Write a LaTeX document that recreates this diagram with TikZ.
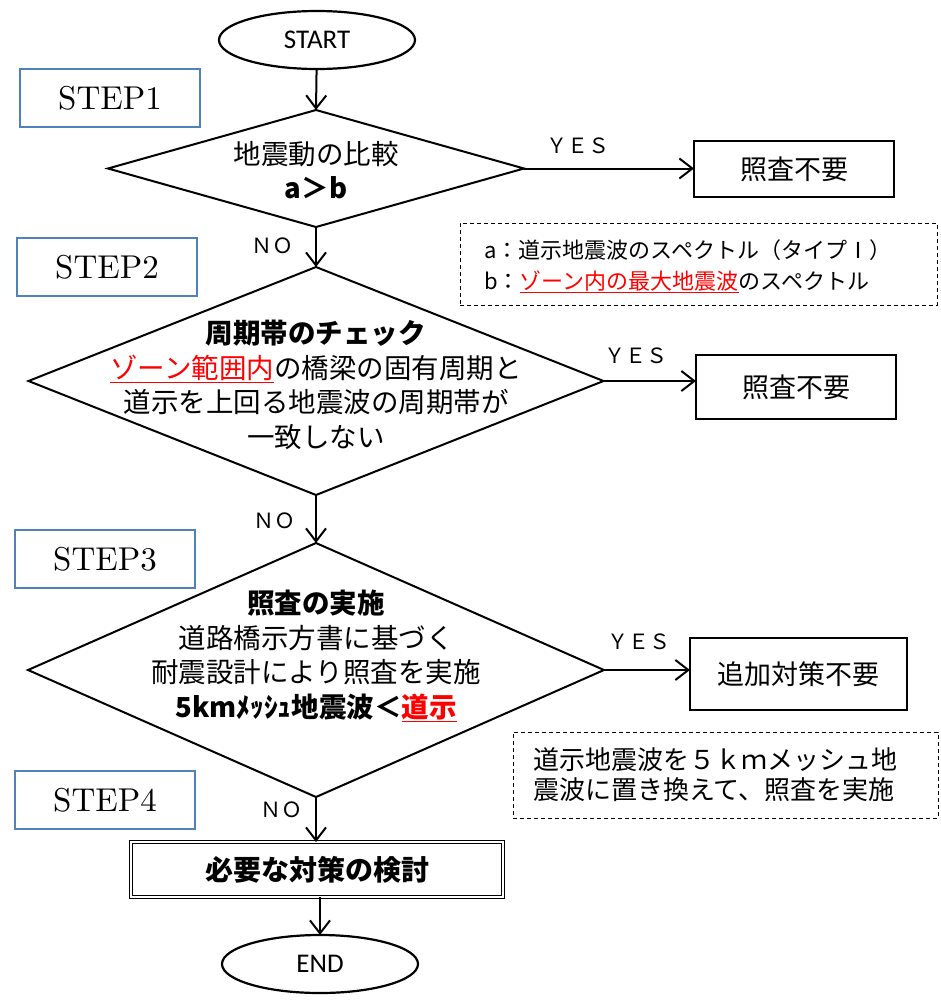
\documentclass[tikz,border=0pt]{standalone}
\usepackage{fontspec}
\usetikzlibrary{shapes.geometric,arrows.meta}
\newfontfamily\jp{Noto Sans CJK JP}
\newfontfamily\calib{Carlito}
\newfontfamily\stepfont{lmroman10-regular.otf}
\definecolor{stepblue}{RGB}{79,129,189}
\begin{document}
\begin{tikzpicture}[x=1pt,y=-1pt,
  stepbox/.style={draw=stepblue, line width=1.6pt, fill=white, minimum width=180pt, minimum height=58pt, inner sep=0pt, font=\stepfont\fontsize{33}{36}\selectfont},
  term/.style={ellipse, draw, line width=2.2pt, inner sep=0pt, outer sep=0pt, minimum width=196pt, minimum height=58pt, font=\calib\fontsize{27}{30}\selectfont},
  dec/.style={diamond, draw, line width=2pt, inner sep=0pt, outer sep=0pt},
  res/.style={draw, line width=2pt, inner sep=0pt, outer sep=0pt, font=\jp\fontsize{27}{30}\selectfont},
  note/.style={draw, dash pattern=on 4pt off 3pt, line width=1pt, inner sep=0pt},
  notetext/.style={align=left, inner sep=0pt, anchor=west},
  dtext/.style={align=center, inner sep=0pt, font=\jp\fontsize{27.5}{34.5}\selectfont},
  lbl/.style={font=\jp\fontsize{21}{24}\selectfont, inner sep=0pt},
  arr/.style={line width=2pt, -{Straight Barb[length=13pt,width=20pt]}}
]
\useasboundingbox (0,0) rectangle (941,1002);

% terminals
\node[term] (start) at (317,40) {START};
\node[term] (end) at (320,964) {END};

% step labels
\node[stepbox] (s1) at (110,98) {STEP1};
\node[stepbox] (s2) at (107,267) {STEP2};
\node[stepbox] (s3) at (105,559) {STEP3};
\node[stepbox] (s4) at (105,800) {STEP4};

% decisions
\node[dec, minimum width=416pt, minimum height=117pt] (d1) at (316,168.5) {};
\node[dec, minimum width=575pt, minimum height=228pt] (d2) at (316,381) {};
\node[dec, minimum width=576pt, minimum height=254pt] (d3) at (316,670) {};

\node[dtext] (t1) at (316,170) {地震動の比較\\{\bfseries a＞b}};
\node[dtext] (t2) at (316,385) {{\bfseries 周期帯のチェック}\\\textcolor{red}{\underline{ゾーン範囲内}}の橋梁の固有周期と\\道示を上回る地震波の周期帯が\\一致しない};
\node[dtext] (t3) at (316,656) {{\bfseries 照査の実施}\\道路橋示方書に基づく\\耐震設計により照査を実施\\{\bfseries 5kmﾒｯｼｭ地震波＜\textcolor{red}{\underline{道示}}}};

% results
\node[res, minimum width=200pt, minimum height=56pt] (r1) at (794,169) {照査不要};
\node[res, minimum width=200pt, minimum height=64pt] (r2) at (796,387) {照査不要};
\node[res, minimum width=217pt, minimum height=72pt] (r3) at (798.5,674) {追加対策不要};
\node[res, double, line width=1pt, double distance=2.5pt, minimum width=372pt, minimum height=55pt, font=\jp\bfseries\fontsize{28}{30}\selectfont] (r4) at (317,869.5) {必要な対策の検討};

% notes
\node[note, minimum width=477pt, minimum height=82pt] (n1) at (698.5,264) {};
\node[notetext, font=\jp\fontsize{22}{31}\selectfont] (n1t) at (484,266) {a：道示地震波のスペクトル（タイプⅠ）\\b：\textcolor{red}{\underline{ゾーン内の最大地震波}}のスペクトル};
\node[note, minimum width=425pt, minimum height=86pt] (n2) at (725.5,775) {};
\node[notetext, font=\jp\fontsize{26}{30}\selectfont] (n2t) at (533,775) {道示地震波を５ｋｍメッシュ地\\震波に置き換えて、照査を実施};

% connectors
\draw[arr] (start) -- (d1.north);
\draw[arr] (d1.south) -- (d2.north);
\draw[arr] (d2.south) -- (d3.north);
\draw[arr] (d3.south) -- (d3.south |- r4.north);
\draw[arr] (r4.south -| end.north) -- (end.north);
\draw[arr] (d1.east) -- (d1.east -| r1.west);
\draw[arr] (d2.east) -- (d2.east -| r2.west);
\draw[arr] (d3.east) -- (d3.east -| r3.west);

% labels
\node[lbl] (y1) at (578,146) {ＹＥＳ};
\node[lbl] (y2) at (636,356) {ＹＥＳ};
\node[lbl] (y3) at (639,642) {ＹＥＳ};
\node[lbl] (no1) at (272,246) {ＮＯ};
\node[lbl] (no2) at (274,521) {ＮＯ};
\node[lbl] (no3) at (281,810) {ＮＯ};
\end{tikzpicture}
\end{document}
